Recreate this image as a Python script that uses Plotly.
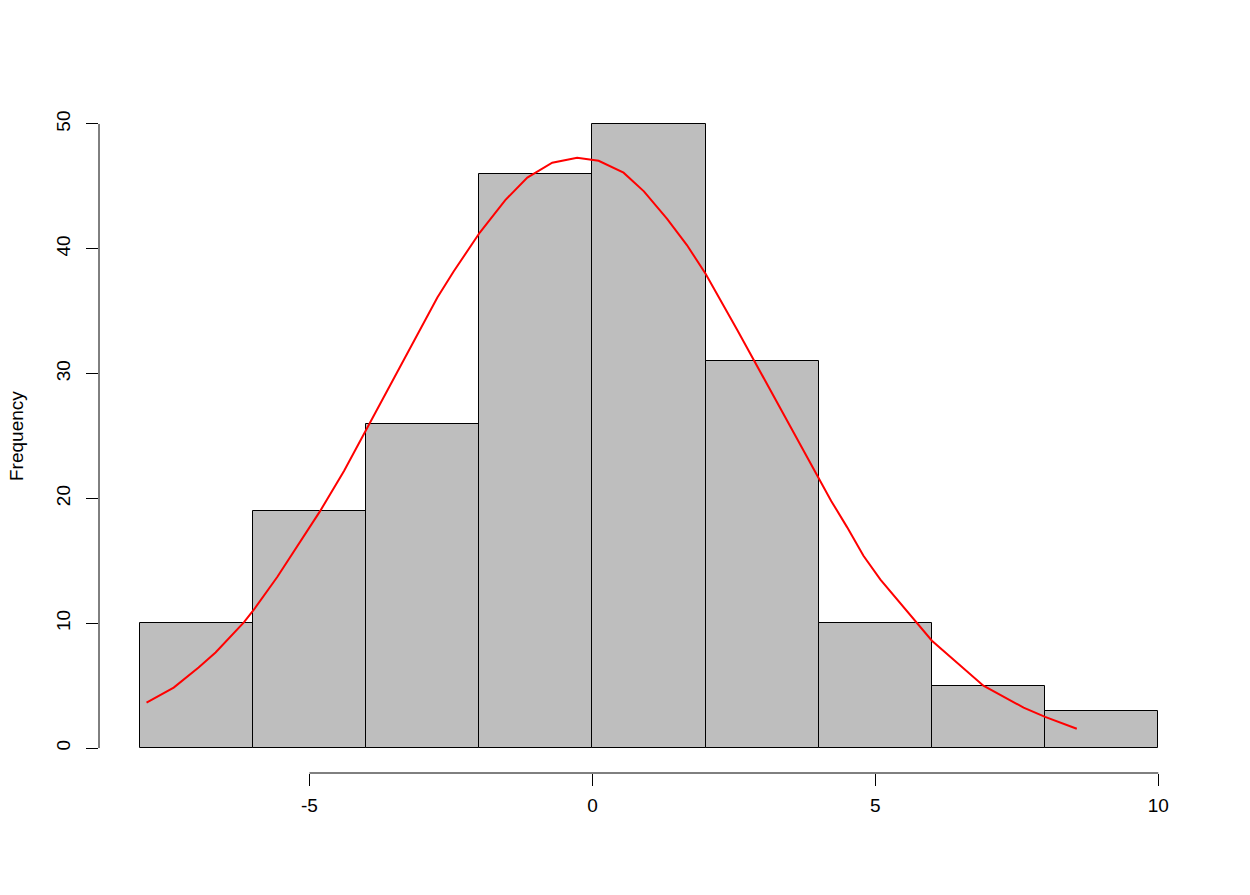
import plotly.graph_objects as go

# Histogram data
bin_edges = [-8, -6, -4, -2, 0, 2, 4, 6, 8, 10]
counts = [10, 19, 26, 46, 50, 31, 10, 5, 3]

# Fitted density curve (scaled to counts)
curve_x = [-7.88, -7.40, -6.96, -6.66, -6.16, -5.98, -5.57, -5.28, -4.81, -4.39,
           -4.01, -3.89, -3.33, -2.74, -2.45, -1.99, -1.54, -1.15, -0.71, -0.27,
           0.11, 0.55, 0.91, 1.32, 1.67, 2.00, 2.56, 2.85, 3.50, 4.00,
           4.22, 4.50, 4.79, 5.09, 5.53, 5.68, 6.00, 6.91, 7.62, 8.00,
           8.56]
curve_y = [3.63, 4.84, 6.45, 7.65, 10.06, 11.1, 13.7, 15.7, 19.0, 22.2,
           25.4, 26.4, 31.1, 36.1, 38.2, 41.3, 43.9, 45.7, 46.9, 47.3,
           47.05, 46.1, 44.6, 42.4, 40.3, 38.0, 33.5, 31.1, 25.7, 21.5,
           19.8, 17.7, 15.4, 13.5, 11.1, 10.3, 8.6, 5.0, 3.24, 2.5,
           1.55]

x_ticks = [-5, 0, 5, 10]
y_ticks = [0, 10, 20, 30, 40, 50]

centers = [(a + b) / 2 for a, b in zip(bin_edges[:-1], bin_edges[1:])]
widths = [b - a for a, b in zip(bin_edges[:-1], bin_edges[1:])]

FONT = "Liberation Sans, Arial, sans-serif"
FS = 19

fig = go.Figure()
fig.add_trace(go.Bar(
    x=centers, y=counts, width=widths,
    marker=dict(color="#BEBEBE", line=dict(color="black", width=1)),
    showlegend=False, hoverinfo="skip"))
fig.add_trace(go.Scatter(
    x=curve_x, y=curve_y, mode="lines",
    line=dict(color="#FF0000", width=2),
    showlegend=False, hoverinfo="skip"))

# Axis lines spanning only tick range, as in base R
fig.add_shape(type="line", xref="x", yref="paper",
              x0=x_ticks[0], x1=x_ticks[-1], y0=0, y1=0,
              line=dict(color="black", width=1))
fig.add_shape(type="line", xref="paper", yref="y",
              x0=0, x1=0, y0=y_ticks[0], y1=y_ticks[-1],
              line=dict(color="black", width=1))

fig.add_annotation(text="Frequency", xref="paper", yref="paper",
                   x=0, y=0.5, xanchor="center", yanchor="middle",
                   xshift=-83, textangle=-90, showarrow=False,
                   font=dict(family=FONT, size=FS, color="black"))

fig.update_layout(
    width=1234, height=879,
    margin=dict(l=91, r=43, t=91, b=114, pad=0),
    paper_bgcolor="white", plot_bgcolor="white",
    bargap=0,
    font=dict(family=FONT, size=FS, color="black"),
    xaxis=dict(range=[-8.72, 10.72], tickvals=x_ticks,
               ticktext=[str(v) for v in x_ticks],
               ticks="outside", ticklen=12, tickwidth=1, tickcolor="black",
               showgrid=False, zeroline=False, showline=False,
               ticklabelstandoff=3,
               tickfont=dict(family=FONT, size=FS, color="black")),
    yaxis=dict(range=[-2, 52], tickvals=y_ticks,
               ticktext=[str(v) for v in y_ticks],
               ticks="outside", ticklen=12, tickwidth=1, tickcolor="black",
               tickangle=-90,
               showgrid=False, zeroline=False, showline=False,
               ticklabelstandoff=8,
               tickfont=dict(family=FONT, size=FS, color="black")),
)

fig.write_html("out.html")
